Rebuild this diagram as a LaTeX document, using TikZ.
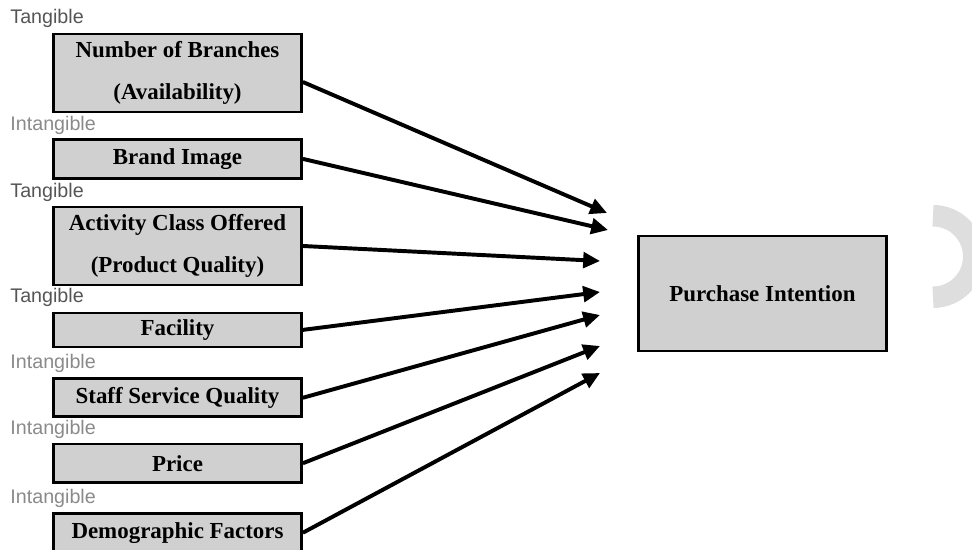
\documentclass[tikz,border=0pt]{standalone}
\usepackage{fontspec}
\setmainfont{Liberation Serif}
\newfontfamily\tagfont{Liberation Sans}
\usepackage{tikz}
\usepackage{xcolor}
\usetikzlibrary{arrows.meta,positioning}

\definecolor{boxgray}{HTML}{D0D0D0}
\definecolor{tangray}{HTML}{555555}
\definecolor{intgray}{HTML}{8A8A8A}
\definecolor{ringgray}{HTML}{DEDEDE}

\begin{document}
\begin{tikzpicture}[
    x=0.025cm, y=-0.025cm,
    factor/.style={draw, line width=1.9pt, fill=boxgray, align=center, inner sep=0pt,
        minimum width=6.2cm, font=\fontsize{16.3}{30}\selectfont\bfseries},
    tangible/.style={text=tangray, inner sep=0pt, anchor=base west, font=\tagfont\fontsize{14}{16}\selectfont},
    intangible/.style={tangible, text=intgray},
    arrow/.style={-{Triangle[length=4.2mm, width=3.9mm]}, line width=2.8pt}
]
\clip (0,0) rectangle (972,550);

% factors on the left
\node[factor, minimum height=1.95cm] (branches) at (177.5,73) {Number of Branches \\ (Availability)};
\node[factor, minimum height=0.97cm, below=0.62cm of branches] (brand) {Brand Image};
\node[factor, minimum height=1.95cm, below=0.65cm of brand] (activity) {Activity Class Offered \\ (Product Quality)};
\node[factor, minimum height=0.85cm, below=0.63cm of activity] (facility) {Facility};
\node[factor, minimum height=0.95cm, below=0.73cm of facility] (staff) {Staff Service Quality};
\node[factor, minimum height=0.97cm, below=0.61cm of staff] (price) {Price};
\node[factor, minimum height=0.97cm, below=0.7cm of price] (demo) {Demographic Factors};

% outcome
\node[factor, minimum height=2.88cm] (intention) at (762.5,293.5) {Purchase Intention};

% tangible / intangible tags
\node[tangible] (tag1) at ([shift={(-42,-9)}]branches.north west) {Tangible};
\node[intangible] (tag2) at ([shift={(-42,-8)}]brand.north west) {Intangible};
\node[tangible] (tag3) at ([shift={(-42,-8)}]activity.north west) {Tangible};
\node[tangible] (tag4) at ([shift={(-42,-9)}]facility.north west) {Tangible};
\node[intangible] (tag5) at ([shift={(-42,-9)}]staff.north west) {Intangible};
\node[intangible] (tag6) at ([shift={(-42,-8)}]price.north west) {Intangible};
\node[intangible] (tag7) at ([shift={(-42,-9)}]demo.north west) {Intangible};

% arrow ends in front of the outcome box
\coordinate (in1) at (607,213);
\coordinate (in2) at (608,230);
\coordinate (in3) at (600,261);
\coordinate (in4) at (600,292);
\coordinate (in5) at (600,315);
\coordinate (in6) at (600,346);
\coordinate (in7) at (600,373);

\draw[arrow] ([shift={(0,9)}]branches.east) -- (in1);
\draw[arrow] (brand.east) -- (in2);
\draw[arrow] (activity.east) -- (in3);
\draw[arrow] (facility.east) -- (in4);
\draw[arrow] (staff.east) -- (in5);
\draw[arrow] (price.east) -- (in6);
\draw[arrow] (demo.east) -- (in7);

% grey half ring at the right edge
\draw[ringgray, line width=0.5375cm] (933,215.75) arc[start angle=-90, end angle=90, radius=40.75];
\end{tikzpicture}
\end{document}
